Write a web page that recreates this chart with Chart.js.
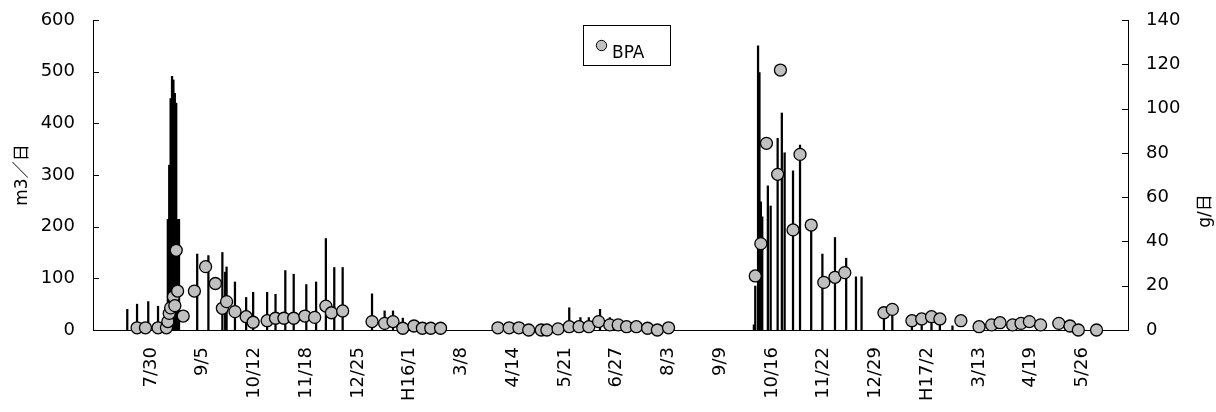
<!DOCTYPE html>
<html>
<head>
<meta charset="utf-8">
<script src="https://cdn.jsdelivr.net/npm/chart.js@4.4.1/dist/chart.umd.min.js"></script>
<style>
  body { margin: 0; background: #fff; }
</style>
</head>
<body>
<canvas id="grafico" width="1216" height="412"></canvas>
<script>
// daily flow (m3/day) and BPA load (g/day), H15-H17
const baseDate = '2003-07-30';
const axisStart = '2003-06-18';
const axisEnd = '2005-06-28';

const tickDates = ['2003-07-30', '2003-09-05', '2003-10-12', '2003-11-18', '2003-12-25', '2004-01-31',
  '2004-03-08', '2004-04-14', '2004-05-21', '2004-06-27', '2004-08-03', '2004-09-09', '2004-10-16',
  '2004-11-22', '2004-12-29', '2005-02-04', '2005-03-13', '2005-04-19', '2005-05-26'];
const tickLabels = ['7/30', '9/5', '10/12', '11/18', '12/25', 'H16/1', '3/8', '4/14', '5/21', '6/27',
  '8/3', '9/9', '10/16', '11/22', '12/29', 'H17/2', '3/13', '4/19', '5/26'];

const flowDates = ['2003-07-13', '2003-07-20', '2003-07-28', '2003-08-04', '2003-08-11', '2003-08-12',
  '2003-08-13', '2003-08-14', '2003-08-15', '2003-08-16', '2003-08-17', '2003-08-18', '2003-08-19',
  '2003-09-01', '2003-09-09', '2003-09-19', '2003-09-21', '2003-09-22', '2003-09-28', '2003-10-06',
  '2003-10-11', '2003-10-21', '2003-10-27', '2003-11-03', '2003-11-09', '2003-11-18', '2003-11-25',
  '2003-12-02', '2003-12-08', '2003-12-14', '2004-01-04', '2004-01-13', '2004-01-19', '2004-01-26',
  '2004-05-24', '2004-06-01', '2004-06-07', '2004-06-15', '2004-06-22', '2004-10-03', '2004-10-04',
  '2004-10-06', '2004-10-07', '2004-10-08', '2004-10-09', '2004-10-13', '2004-10-15', '2004-10-20',
  '2004-10-23', '2004-10-25', '2004-10-31', '2004-11-05', '2004-11-13', '2004-11-21', '2004-11-30',
  '2004-12-08', '2004-12-15', '2004-12-19', '2005-01-04', '2005-01-10', '2005-01-24', '2005-01-31',
  '2005-02-07', '2005-02-13', '2005-02-22'];
const flowValues = [40, 50, 55, 46, 214, 319,
  448, 491, 484, 458, 439, 214, 214,
  147, 144, 150, 112, 122, 93, 63,
  73, 73, 69, 115, 108, 88, 93,
  177, 121, 121, 70, 37, 37, 23,
  43, 24, 24, 40, 24, 10, 85,
  550, 498, 248, 219, 279, 240, 371,
  420, 343, 308, 358, 193, 147, 179,
  139, 103, 103, 30, 30, 20, 20,
  22, 20, 8];

const bpaDates = ['2003-07-20', '2003-07-26', '2003-08-04', '2003-08-10', '2003-08-11', '2003-08-12',
  '2003-08-13', '2003-08-15', '2003-08-16', '2003-08-17', '2003-08-18', '2003-08-22', '2003-08-30',
  '2003-09-07', '2003-09-14', '2003-09-19', '2003-09-22', '2003-09-28', '2003-10-06', '2003-10-11',
  '2003-10-21', '2003-10-27', '2003-11-02', '2003-11-09', '2003-11-17', '2003-11-24', '2003-12-02',
  '2003-12-06', '2003-12-14', '2004-01-04', '2004-01-13', '2004-01-19', '2004-01-26', '2004-02-03',
  '2004-02-09', '2004-02-15', '2004-02-22', '2004-04-03', '2004-04-11', '2004-04-18', '2004-04-25',
  '2004-05-04', '2004-05-08', '2004-05-16', '2004-05-24', '2004-05-31', '2004-06-07', '2004-06-14',
  '2004-06-22', '2004-06-28', '2004-07-04', '2004-07-11', '2004-07-19', '2004-07-26', '2004-08-03',
  '2004-10-04', '2004-10-08', '2004-10-12', '2004-10-20', '2004-10-22', '2004-10-31', '2004-11-05',
  '2004-11-13', '2004-11-22', '2004-11-30', '2004-12-07', '2005-01-04', '2005-01-10', '2005-01-24',
  '2005-01-31', '2005-02-07', '2005-02-13', '2005-02-28', '2005-03-13', '2005-03-22', '2005-03-28',
  '2005-04-06', '2005-04-12', '2005-04-18', '2005-04-26', '2005-05-09', '2005-05-17', '2005-05-23',
  '2005-06-05'];
const bpaValues = [1, 1, 1, 1, 3.8, 7.5,
  10, 15, 11, 36, 17.6, 6.3, 17.6,
  28.6, 21, 9.8, 12.8, 8.3, 6, 3.5,
  4.2, 5.3, 5.3, 5.3, 6.3, 5.7, 10.8,
  7.8, 8.6, 3.8, 3, 3.8, 0.8, 1.8,
  0.8, 0.8, 0.8, 1, 1, 1, 0,
  0, 0, 0.5, 1.5, 1.5, 1.5, 3.8,
  2.3, 2.3, 1.5, 1.5, 0.8, 0, 1,
  24.4, 39, 84.3, 70.3, 117.4, 45.2, 79.3,
  47.4, 21.5, 23.8, 25.9, 7.8, 9.3, 4.2,
  5, 6, 5, 4.2, 1.5, 2.3, 3.3,
  2.3, 3, 3.8, 2.3, 3, 1.8, 0,
  0];

const dayNum = s => (Date.parse(s) - Date.parse(baseDate)) / 864e5;

const FONT = 'DejaVu Sans';
const CJK = '"DejaVu Sans", "Noto Sans CJK JP"';
Chart.defaults.font.family = FONT;
Chart.defaults.font.size = 18;
Chart.defaults.color = '#000';

// tick marks drawn on the inside of both value axes
const innerTicks = {
  id: 'innerTicks',
  afterDatasetsDraw(chart) {
    const ctx = chart.ctx;
    ctx.save();
    ctx.strokeStyle = '#000';
    ctx.lineWidth = 1;
    ['y', 'y1'].forEach(id => {
      const s = chart.scales[id];
      const x0 = id === 'y' ? s.right : s.left;
      const dir = id === 'y' ? 1 : -1;
      s.ticks.forEach(t => {
        const py = Math.round(s.getPixelForValue(t.value)) + 0.5;
        ctx.beginPath();
        ctx.moveTo(x0, py);
        ctx.lineTo(x0 + dir * 6, py);
        ctx.stroke();
      });
    });
    ctx.restore();
  }
};

// right axis title reads bottom to top, like the left one
const rightTitle = {
  id: 'rightTitle',
  afterDraw(chart) {
    const ctx = chart.ctx;
    const s = chart.scales.y1;
    ctx.save();
    ctx.translate(s.right - 10, (s.top + s.bottom) / 2 + 36);
    ctx.rotate(-Math.PI / 2);
    ctx.font = '17px ' + CJK;
    ctx.fillStyle = '#000';
    ctx.textAlign = 'center';
    ctx.textBaseline = 'middle';
    ctx.fillText('g/日', 0, 0);
    ctx.restore();
  }
};

// boxed legend in the upper middle of the plot
const boxLegend = {
  id: 'boxLegend',
  afterDraw(chart) {
    const ctx = chart.ctx;
    const ds = chart.data.datasets[0];
    ctx.save();
    ctx.fillStyle = '#fff';
    ctx.fillRect(583, 25, 88, 40);
    ctx.strokeStyle = '#000';
    ctx.lineWidth = 1;
    ctx.strokeRect(583.5, 25.5, 87, 40);
    ctx.beginPath();
    ctx.arc(601.5, 45.5, 5.2, 0, Math.PI * 2);
    ctx.fillStyle = ds.pointBackgroundColor;
    ctx.fill();
    ctx.stroke();
    ctx.fillStyle = '#000';
    ctx.font = '17px ' + FONT;
    ctx.textBaseline = 'alphabetic';
    ctx.fillText(ds.label, 612, 57.5);
    ctx.restore();
  }
};

// fixed axis boxes so the plot area stays put
const fitWidth = w => scale => {
  scale.width = w;
  scale.paddingTop = 0;
  scale.paddingBottom = 0;
};

const grafico = document.getElementById('grafico');

new Chart(grafico, {
  type: 'scatter',
  data: {
    datasets: [
      {
        type: 'scatter',
        label: 'BPA',
        yAxisID: 'y1',
        order: 0,
        clip: false,
        data: bpaDates.map((d, i) => ({ x: dayNum(d), y: bpaValues[i] })),
        pointRadius: 6,
        pointHoverRadius: 6,
        pointBackgroundColor: '#c0c0c0',
        pointBorderColor: '#000',
        pointBorderWidth: 1.3
      },
      {
        type: 'bar',
        label: '流量',
        yAxisID: 'y',
        order: 1,
        data: flowDates.map((d, i) => ({ x: dayNum(d), y: flowValues[i] })),
        backgroundColor: '#000',
        barThickness: 1.6
      }
    ]
  },
  options: {
    responsive: false,
    animation: false,
    layout: { padding: { top: 20, left: 0, right: 0, bottom: 0 } },
    plugins: {
      legend: { display: false },
      tooltip: { enabled: false }
    },
    scales: {
      x: {
        type: 'linear',
        offset: false,
        min: dayNum(axisStart) + 0.5,
        max: dayNum(axisEnd) - 0.5,
        afterBuildTicks: scale => {
          scale.ticks = tickDates.map(d => ({ value: dayNum(d) }));
        },
        afterFit: scale => {
          scale.height = 82;
          scale.paddingLeft = 0;
          scale.paddingRight = 0;
        },
        grid: { display: false, drawTicks: false },
        border: { display: true, color: '#000', width: 1 },
        ticks: {
          autoSkip: false,
          minRotation: 90,
          maxRotation: 90,
          padding: 17,
          callback: (value, index) => tickLabels[index]
        }
      },
      y: {
        position: 'left',
        min: 0,
        max: 600,
        afterFit: fitWidth(93),
        grid: { display: false, drawTicks: false },
        border: { display: true, color: '#000', width: 1 },
        ticks: { stepSize: 100, padding: 18 },
        title: {
          display: true,
          text: 'm3／日',
          font: { family: CJK, size: 17 },
          padding: { top: 12, bottom: 0 }
        }
      },
      y1: {
        position: 'right',
        min: 0,
        max: 140,
        afterFit: fitWidth(88),
        grid: { display: false, drawTicks: false },
        border: { display: true, color: '#000', width: 1 },
        ticks: { stepSize: 20, padding: 18 }
      }
    }
  },
  plugins: [innerTicks, rightTitle, boxLegend]
});
</script>
</body>
</html>
